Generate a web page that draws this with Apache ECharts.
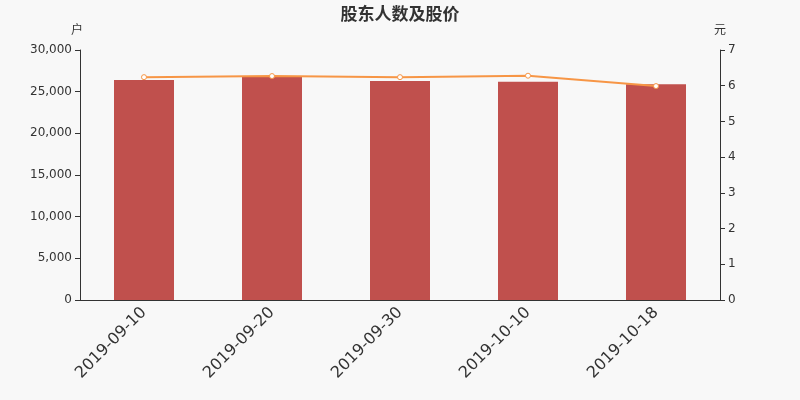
<!DOCTYPE html>
<html><head><meta charset="utf-8">
<script src="https://cdn.jsdelivr.net/npm/echarts@6/dist/echarts.min.js"></script>
<style>html,body{margin:0;padding:0;background:#f8f8f8}#c{width:800px;height:400px}</style>
</head><body><div id="c"></div>
<script>
const categories = ['2019-09-10','2019-09-20','2019-09-30','2019-10-10','2019-10-18'];
const holders = [26400, 26800, 26280, 26200, 25880];
const prices = [6.24, 6.27, 6.24, 6.28, 5.99];
const chart = echarts.init(document.getElementById('c'));
const axisColor = '#333';
const font = 'DejaVu Sans';
chart.setOption({
  backgroundColor: '#f8f8f8',
  animation: false,
  textStyle: { fontFamily: font },
  title: { text: '股东人数及股价', left: 'center', top: 0, textStyle: { fontSize: 17, fontWeight: 'bold', color: '#333', fontFamily: 'Noto Sans CJK SC' } },
  grid: { left: 80, right: 80, top: 50, bottom: 100 },
  xAxis: {
    type: 'category', data: categories,
    axisLine: { lineStyle: { color: axisColor } },
    axisTick: { lineStyle: { color: axisColor } },
    axisLabel: { rotate: 45, fontSize: 16, color: '#333', margin: 10, fontFamily: font }
  },
  yAxis: [{
    type: 'value', name: '户', min: 0, max: 30000, interval: 5000,
    nameTextStyle: { color: '#333', fontSize: 12, padding: [0, 0, 0, -6], fontFamily: 'Noto Sans CJK SC' },
    axisLine: { show: true, lineStyle: { color: axisColor } },
    axisTick: { show: true, lineStyle: { color: axisColor } },
    splitLine: { show: false },
    axisLabel: { color: '#333', fontSize: 12, fontFamily: font, formatter: v => v.toLocaleString('en-US') }
  }, {
    type: 'value', name: '元', min: 0, max: 7, interval: 1,
    nameTextStyle: { color: '#333', fontSize: 12, padding: [0, 0, 0, 0], fontFamily: 'Noto Sans CJK SC' },
    axisLine: { show: true, lineStyle: { color: axisColor } },
    axisTick: { show: true, lineStyle: { color: axisColor } },
    splitLine: { show: false },
    axisLabel: { color: '#333', fontSize: 12, fontFamily: font }
  }],
  series: [{
    type: 'bar', data: holders, barWidth: 60, yAxisIndex: 0,
    itemStyle: { color: '#c0504d' }
  }, {
    type: 'line', data: prices, yAxisIndex: 1,
    symbol: 'circle', symbolSize: 5,
    lineStyle: { color: '#f79646', width: 2 },
    itemStyle: { color: '#fff', borderColor: '#f79646', borderWidth: 1 }
  }]
});
</script></body></html>
